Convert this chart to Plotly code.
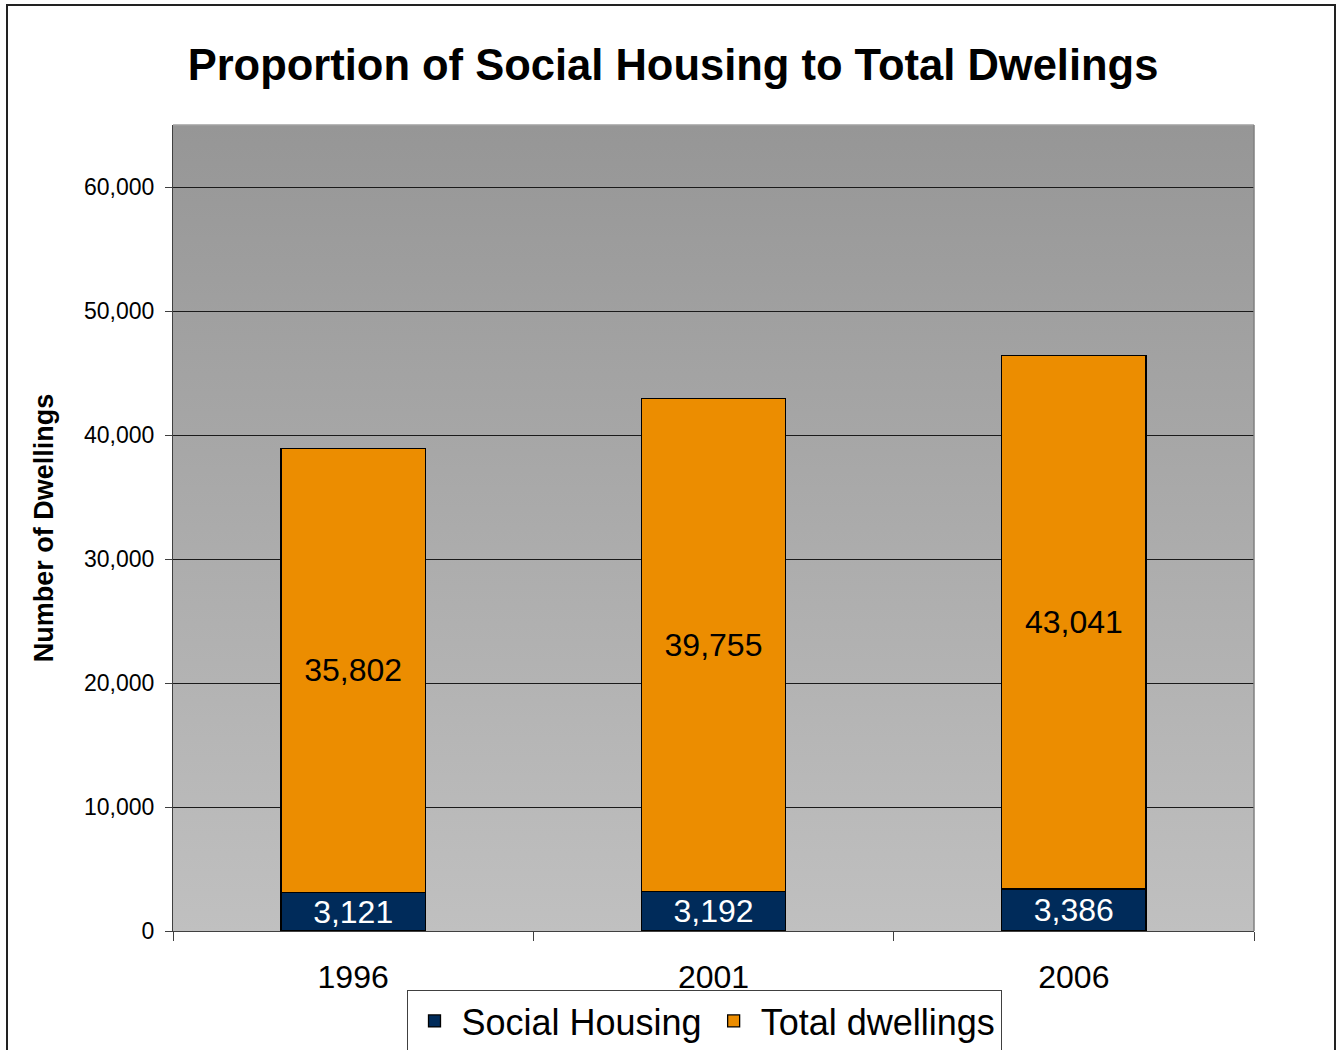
import plotly.graph_objects as go

# Census years and dwelling counts
years = ["1996", "2001", "2006"]
social_housing = [3121, 3192, 3386]
total_dwellings = [35802, 39755, 43041]

y_ticks = [0, 10000, 20000, 30000, 40000, 50000, 60000]
y_tick_labels = ["0", "10,000", "20,000", "30,000", "40,000", "50,000", "60,000"]

FONT = "Liberation Sans, Arial, sans-serif"

# plot area in pixels: left 173, right 1254, top 125, bottom 931
L, R, T, B = 173, 84, 125, 119
W, H = 1338, 1050
pw, ph = W - L - R, H - T - B


def px_x(px):
    return (px - L) / pw


def px_y(py):
    return (H - B - py) / ph


fig = go.Figure()

fig.add_trace(go.Bar(
    x=years, y=social_housing, name="Social Housing",
    marker=dict(color="#002B5A", line=dict(color="#000000", width=1.3)),
    text=[f"{v:,}" for v in social_housing],
    textposition="inside", insidetextanchor="middle", textangle=0,
    constraintext="none",
    textfont=dict(color="white", size=32, family=FONT),
    hoverinfo="skip",
))
fig.add_trace(go.Bar(
    x=years, y=total_dwellings, name="Total dwellings",
    marker=dict(color="#EC8D00", line=dict(color="#000000", width=1.3)),
    text=[f"{v:,}" for v in total_dwellings],
    textposition="inside", insidetextanchor="middle", textangle=0,
    constraintext="none",
    textfont=dict(color="black", size=32, family=FONT),
    hoverinfo="skip",
))

# vertical grey gradient behind the plot area
bg_svg = (
    "data:image/svg+xml;utf8,"
    "<svg xmlns='http://www.w3.org/2000/svg' width='100' height='100' preserveAspectRatio='none'>"
    "<defs><linearGradient id='g' x1='0' y1='0' x2='0' y2='1'>"
    "<stop offset='0' stop-color='%23969696'/><stop offset='1' stop-color='%23C0C0C0'/>"
    "</linearGradient></defs><rect width='100' height='100' fill='url(%23g)'/></svg>"
)

fig.update_layout(
    width=W, height=H,
    margin=dict(l=L, r=R, t=T, b=B, autoexpand=False),
    paper_bgcolor="white",
    plot_bgcolor="rgba(0,0,0,0)",
    barmode="stack",
    bargap=0.6,
    font=dict(family=FONT, color="black"),
    title=dict(
        text="<b>Proportion of Social Housing to Total Dwelings</b>",
        font=dict(size=43.5, family=FONT, color="black"),
        x=px_x(673), xref="paper", xanchor="center",
        y=1 - 65 / H, yref="container", yanchor="middle",
    ),
    images=[dict(
        source=bg_svg, xref="paper", yref="paper", x=0, y=1,
        sizex=1, sizey=1, sizing="stretch", layer="below",
    )],
    xaxis=dict(
        showgrid=False,
        showline=True, linecolor="#404040", linewidth=1,
        ticks="outside", tickson="boundaries", ticklen=9, tickcolor="#404040",
        tickfont=dict(size=32, family=FONT, color="black"),
        ticklabelstandoff=18,
        range=[-0.5, 2.5],
        automargin=False,
    ),
    yaxis=dict(
        range=[0, 65000],
        tickvals=y_ticks, ticktext=y_tick_labels,
        showgrid=True, gridcolor="#1a1a1a", gridwidth=1,
        showline=True, linecolor="#404040", linewidth=1,
        ticks="outside", ticklen=7, tickcolor="#404040",
        tickfont=dict(size=23, family=FONT, color="black"),
        ticklabelstandoff=6,
        title=dict(text="<b>Number of Dwellings</b>",
                   font=dict(size=27, family=FONT, color="black"), standoff=22),
        zeroline=False,
        automargin=False,
    ),
    legend=dict(
        orientation="h",
        x=px_x(704), xanchor="center",
        y=px_y(990), yanchor="top",
        bordercolor="#404040", borderwidth=1,
        bgcolor="white",
        font=dict(size=36, family=FONT, color="black"),
        traceorder="normal",
        itemwidth=44,
    ),
    shapes=[
        # outer chart frame
        dict(type="rect", xref="paper", yref="paper",
             x0=px_x(7), x1=px_x(1335), y0=px_y(1070), y1=px_y(5),
             line=dict(color="#222222", width=2), fillcolor="rgba(0,0,0,0)", layer="below"),
        # plot area top / right edges
        dict(type="line", xref="paper", yref="paper", x0=0, x1=1, y0=1, y1=1,
             line=dict(color="#A0A0A0", width=1.5)),
        dict(type="line", xref="paper", yref="paper", x0=1, x1=1, y0=0, y1=1,
             line=dict(color="#808080", width=1.5)),
    ],
)

fig.write_html("out.html")
